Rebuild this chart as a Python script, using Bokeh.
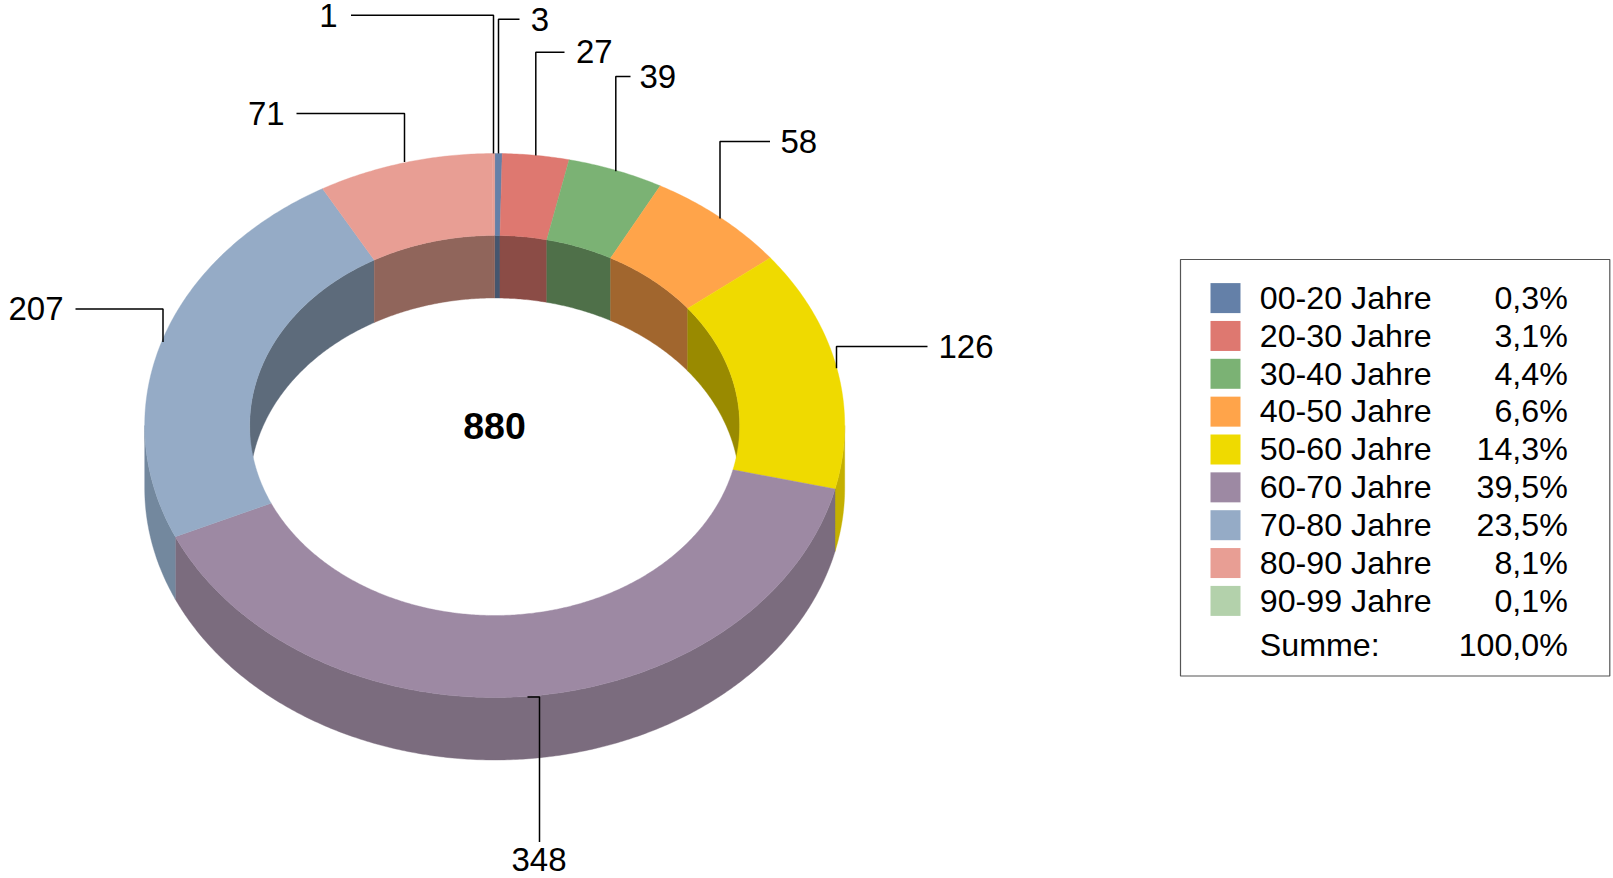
import math
from bokeh.plotting import figure
from bokeh.models import Range1d
from bokeh.core.properties import value
from bokeh.embed import file_html
from bokeh.resources import INLINE

# ---- data ----
categories = ["00-20 Jahre", "20-30 Jahre", "30-40 Jahre", "40-50 Jahre", "50-60 Jahre",
              "60-70 Jahre", "70-80 Jahre", "80-90 Jahre", "90-99 Jahre"]
counts = [3, 27, 39, 58, 126, 348, 207, 71, 1]
percent_labels = ["0,3%", "3,1%", "4,4%", "6,6%", "14,3%", "39,5%", "23,5%", "8,1%", "0,1%"]
total_label = "880"
sum_label = "Summe:"
sum_percent = "100,0%"
top_colors = ["#6480A8", "#DE7870", "#7BB274", "#FFA44A", "#EFDA00", "#9D89A3", "#95ABC6", "#E89E94", "#B3D1AB"]
# the 90-99 sliver does not show in the ring of the original: it blends into its neighbour
ring_colors = top_colors[:8] + ["#E89E94"]
inner_colors = ["#45566F", "#8B4C46", "#4F7049", "#A1662E", "#998A00", "#65586A", "#5D6B7B", "#90655B", "#90655B"]
outer_colors = ["#516A8B", "#B8625B", "#658F5F", "#CF853C", "#C4B000", "#7B6C7E", "#73889E", "#BC7F77", "#BC7F77"]

# ---- layout (page pixels) ----
CX, CY = 494.2, 425.0
RX, RY = 350.0, 272.0
IRX, IRY = 245.0, 190.0
DEPTH = 62.5
FONT = value("Liberation Sans")

p = figure(width=1613, height=878, output_backend="svg", toolbar_location=None,
           x_range=Range1d(0, 1613), y_range=Range1d(878, 0), min_border=0)
p.axis.visible = False
p.grid.visible = False
p.outline_line_color = None
p.background_fill_color = "white"


def pt(a, rx, ry, dy=0.0):
    t = math.radians(a)
    return CX + rx * math.sin(t), CY - ry * math.cos(t) + dy


def arc(a0, a1, rx, ry, dy=0.0):
    n = max(2, int(abs(a1 - a0) * 2) + 2)
    return [pt(a0 + (a1 - a0) * i / (n - 1), rx, ry, dy) for i in range(n)]


def poly(points, color):
    p.patch([q[0] for q in points], [q[1] for q in points], fill_color=color,
            line_color=color, line_width=0.4)


total = sum(counts)
spans = []
c = 0
for v in counts:
    spans.append((c / total * 360, (c + v) / total * 360))
    c += v

for (a0, a1), col in zip(spans, inner_colors):
    for lo, hi in ((a0, min(a1, 90)), (max(a0, 270), a1)):
        if hi > lo:
            poly(arc(lo, hi, IRX, IRY) + arc(hi, lo, IRX, IRY, DEPTH), col)

for (a0, a1), col in zip(spans, outer_colors):
    lo, hi = max(a0, 90), min(a1, 270)
    if hi > lo:
        poly(arc(lo, hi, RX, RY) + arc(hi, lo, RX, RY, DEPTH), col)

for (a0, a1), col in zip(spans, ring_colors):
    poly(arc(a0, a1, RX, RY) + arc(a1, a0, IRX, IRY), col)

leaders = [
    [(350.5, 14.7), (493, 14.7), (493, 153)],
    [(519, 18.7), (498, 18.7), (498, 153)],
    [(564, 51.7), (535.3, 51.7), (535.3, 155)],
    [(630, 76), (615.3, 76), (615.3, 170.7)],
    [(769.5, 141), (719.5, 141), (719.5, 218)],
    [(927, 346), (836, 346), (836, 367.7)],
    [(527, 696.5), (539, 696.5), (539, 841.5)],
    [(75, 308.6), (162.5, 308.6), (162.5, 341.5)],
    [(296, 113), (404, 113), (404, 161.5)],
]
for pts in leaders:
    p.line([q[0] for q in pts], [q[1] for q in pts], line_color="black", line_width=1.5)


def txt(x, y, s, size=32.2, align="left", style="normal"):
    p.text([x], [y - 0.35 * size], text=[s], text_font=FONT, text_font_size=f"{size}px",
           text_align=align, text_baseline="middle", text_color="black", text_font_style=style)


label_anchor = [(530.2, 30.5, "left"), (575.5, 62.7, "left"), (639, 88, "left"), (780, 152.5, "left"),
                (938, 357.5, "left"), (538.5, 870.5, "center"), (8, 320, "left"), (247.5, 124.5, "left"),
                (328, 26.7, "center")]
for v, (x, y, al) in zip(counts, label_anchor):
    txt(x, y, str(v), size=33, align=al)

txt(494, 439, total_label, size=37.5, align="center", style="bold")

p.quad(left=[1180], right=[1609.3], top=[259], bottom=[675.5], fill_color="white",
       line_color="#555555", line_width=1.2)
for i, (name, pct, col) in enumerate(zip(categories, percent_labels, top_colors)):
    y = 282.6 + i * 37.85
    p.quad(left=[1210], right=[1240], top=[y], bottom=[y + 30], fill_color=col, line_color=None)
    txt(1259.3, y + 26, name)
    txt(1567.3, y + 26, pct, align="right")
txt(1259.3, 656, sum_label)
txt(1567.3, 656, sum_percent, align="right")

open("out.html", "w").write(file_html(p, INLINE))
